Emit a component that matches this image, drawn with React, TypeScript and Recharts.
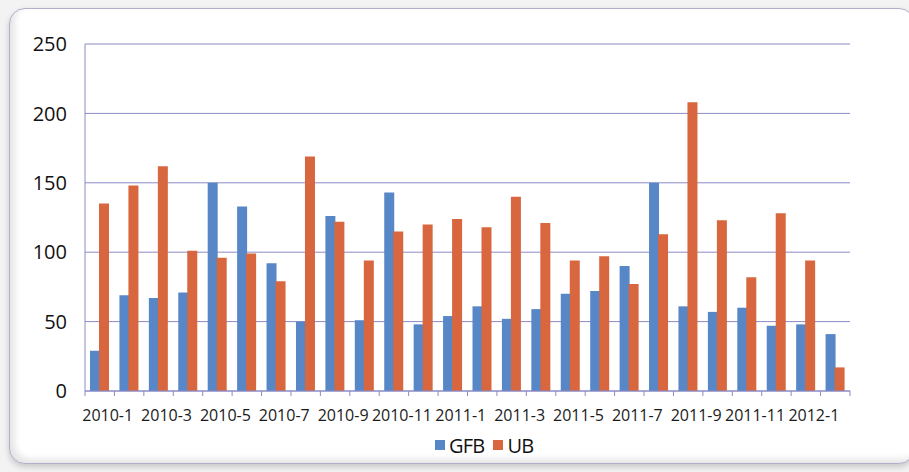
import { BarChart, Bar, XAxis, YAxis, CartesianGrid, Legend } from 'recharts';

const months = [
  '2010-1', '2010-2', '2010-3', '2010-4', '2010-5', '2010-6', '2010-7', '2010-8', '2010-9',
  '2010-10', '2010-11', '2010-12', '2011-1', '2011-2', '2011-3', '2011-4', '2011-5', '2011-6',
  '2011-7', '2011-8', '2011-9', '2011-10', '2011-11', '2011-12', '2012-1', '2012-2',
];
const gfb = [29, 69, 67, 71, 150, 133, 92, 50, 126, 51, 143, 48, 54, 61, 52, 59, 70, 72, 90, 150, 61, 57, 60, 47, 48, 41];
const ub = [135, 148, 162, 101, 96, 99, 79, 169, 122, 94, 115, 120, 124, 118, 140, 121, 94, 97, 77, 113, 208, 123, 82, 128, 94, 17];
const yTicks = [0, 50, 100, 150, 200, 250];

const GRID = '#8b8bc6';
const BLUE = '#5787c6';
const ORANGE = '#d8663e';
const FONT = '"Open Sans", sans-serif';

const chartData = months.map((m, i) => ({ month: m, GFB: gfb[i], UB: ub[i] }));

// tick marks sit on the category boundaries, labels on every other category
function MonthTick(props: any) {
  const { x, y, payload, index, visibleTicksCount } = props;
  const half = payload.offset ?? 0;
  const isLast = index === visibleTicksCount - 1;
  return (
    <g>
      <line x1={x - half} x2={x - half} y1={y} y2={y + 5} stroke={GRID} />
      {isLast && <line x1={x + half} x2={x + half} y1={y} y2={y + 5} stroke={GRID} />}
      {index % 2 === 0 && (
        <text
          x={x + 8}
          y={y + 30}
          textAnchor="middle"
          fill="#1a1a1a"
          fontSize={16}
          fontFamily={FONT}
        >
          {payload.value}
        </text>
      )}
    </g>
  );
}

function ChartLegend() {
  const items = [
    { name: 'GFB', color: BLUE },
    { name: 'UB', color: ORANGE },
  ];
  return (
    <div style={{ display: 'flex', alignItems: 'center', height: 24, fontFamily: FONT, fontSize: 20, color: '#111' }}>
      {items.map((it) => (
        <div key={it.name} style={{ display: 'flex', alignItems: 'center', marginRight: 9 }}>
          <span style={{ width: 10, height: 10, background: it.color, marginRight: 4, display: 'inline-block' }} />
          <span style={{ letterSpacing: -0.8 }}>{it.name}</span>
        </div>
      ))}
    </div>
  );
}

export default function App() {
  return (
    <div
      style={{
        position: 'fixed',
        left: 0,
        top: 0,
        width: 909,
        height: 472,
        overflow: 'hidden',
        background: '#f3f3f3',
      }}
    >
      <div
        style={{
          position: 'absolute',
          left: 9,
          top: 8,
          width: 904,
          height: 454,
          background: '#fff',
          border: '1px solid #b0b0cc',
          borderRadius: 16,
          boxShadow: 'inset 5px -4px 6px rgba(0,0,0,0.10), 0 3px 6px rgba(0,0,0,0.18)',
        }}
      />
      <div style={{ position: 'absolute', left: 0, top: 0 }}>
        <BarChart
          width={909}
          height={472}
          data={chartData}
          margin={{ top: 44, right: 59, left: 25, bottom: 15 }}
          barSize={10}
          barGap={-1}
        >
          <CartesianGrid vertical={false} stroke={GRID} strokeWidth={1} />
          <XAxis
            dataKey="month"
            interval={0}
            height={42}
            tickSize={0}
            tickMargin={0}
            tickLine={false}
            axisLine={{ stroke: GRID }}
            tick={<MonthTick />}
          />
          <YAxis
            width={60}
            domain={[0, 250]}
            ticks={yTicks}
            tickSize={0}
            tickMargin={18}
            tickLine={false}
            axisLine={{ stroke: GRID }}
            tick={{ fill: '#111', fontSize: 20, fontFamily: FONT }}
          />
          <Legend
            verticalAlign="bottom"
            content={<ChartLegend />}
            wrapperStyle={{ left: 435, width: 140 }}
          />
          <Bar dataKey="GFB" fill={BLUE} isAnimationActive={false} />
          <Bar dataKey="UB" fill={ORANGE} isAnimationActive={false} />
        </BarChart>
      </div>
    </div>
  );
}
